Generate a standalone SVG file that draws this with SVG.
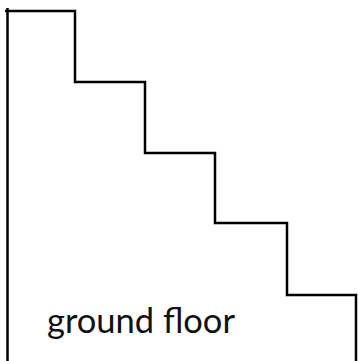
<svg xmlns="http://www.w3.org/2000/svg" width="358" height="361" viewBox="0 0 358 361">
<style>
.l{fill:none;stroke:#000;stroke-width:2.5;stroke-linejoin:miter}
.t{font-family:Lato,"Noto Sans",sans-serif;font-size:34px;fill:#111}
</style>
<rect width="358" height="361" fill="#fff"/>
<g id="stairs">
<path class="l" d="M7.5,8 V361"/>
<path class="l" d="M5,11 H75 V82 H145 V153 H215 V223 H287 V295 H356 V361"/>
</g>
<g id="label">
<text class="t" x="47" y="333" textLength="188" lengthAdjust="spacingAndGlyphs">ground floor</text>
</g>
</svg>
